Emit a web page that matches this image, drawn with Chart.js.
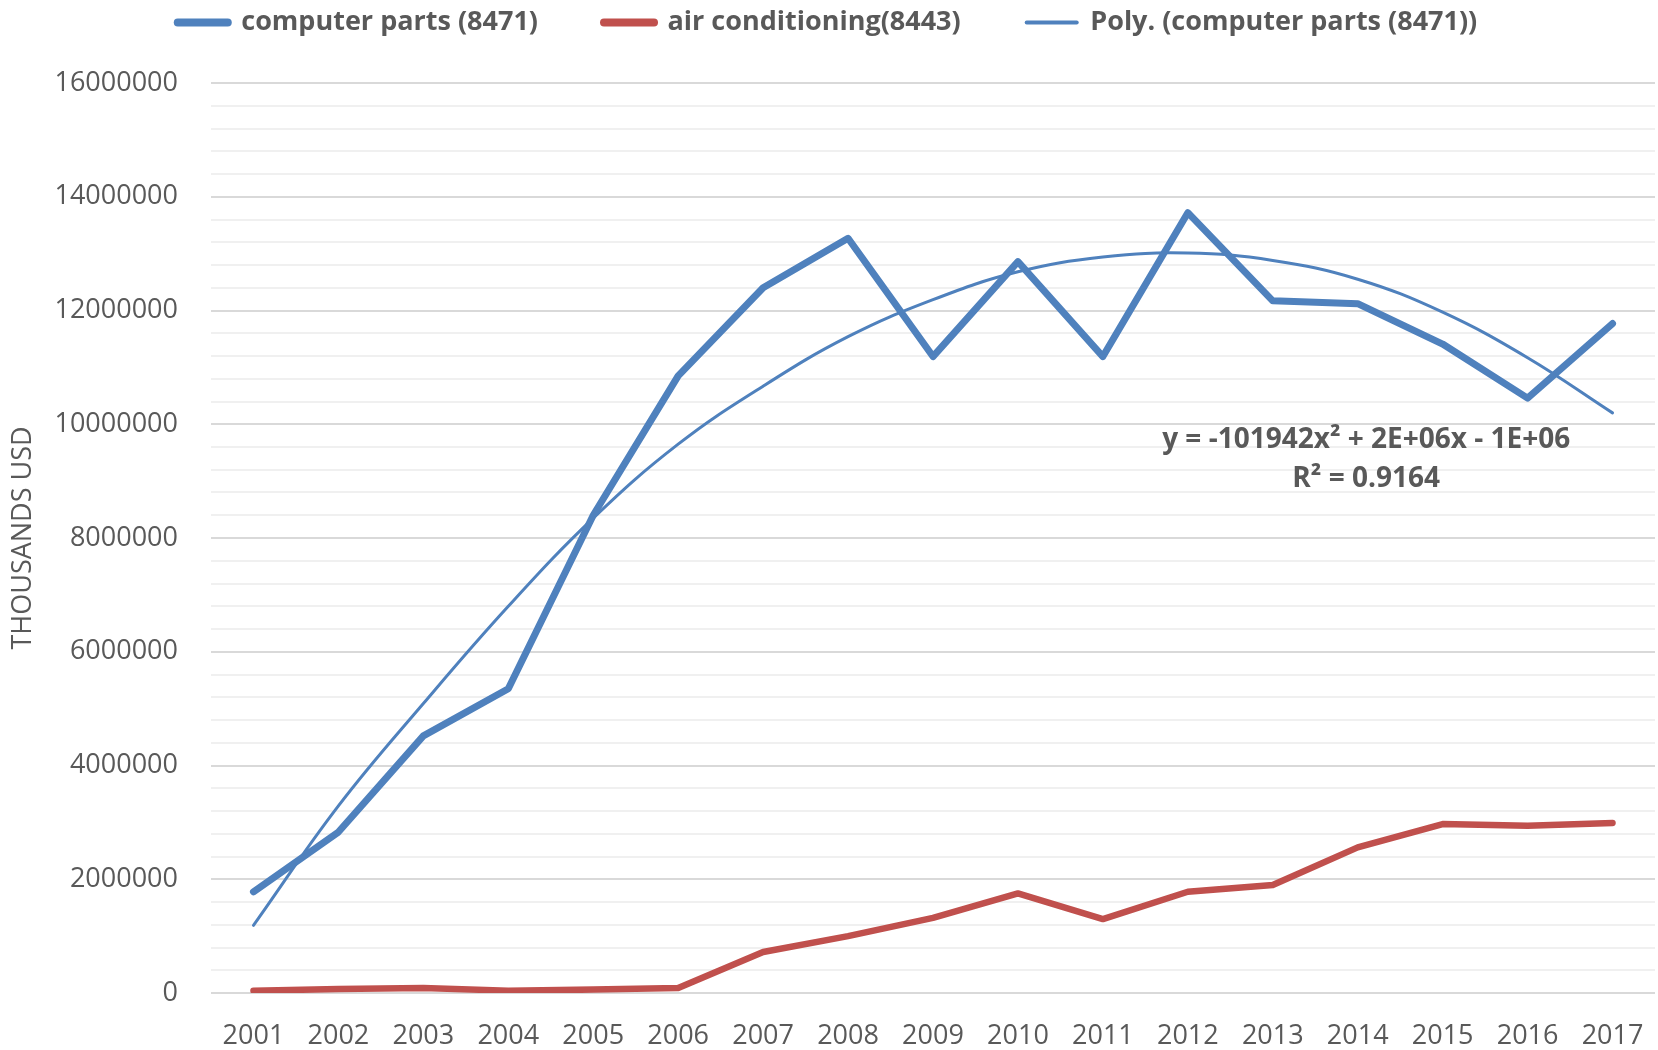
<!DOCTYPE html>
<html>
<head>
<meta charset="utf-8">
<script src="https://cdn.jsdelivr.net/npm/chart.js@4/dist/chart.umd.min.js"></script>
<style>
    html, body { margin: 0; padding: 0; background: #fff; }
    #wrap { width: 1658px; height: 1050px; }
</style>
</head>
<body>
<div id="wrap"><canvas id="grafico"></canvas></div>
<script>
// --- Datos ---
const anios = ["2001", "2002", "2003", "2004", "2005", "2006", "2007", "2008", "2009",
               "2010", "2011", "2012", "2013", "2014", "2015", "2016", "2017"];

const computerParts = [1780000, 2830000, 4520000, 5350000, 8400000, 10850000, 12400000, 13270000, 11190000,
                       12860000, 11190000, 13720000, 12170000, 12120000, 11410000, 10460000, 11770000];

const airConditioning = [40000, 70000, 90000, 40000, 60000, 90000, 720000, 1000000, 1320000,
                         1750000, 1300000, 1780000, 1900000, 2560000, 2970000, 2940000, 2990000];

// tendencia polinómica
const polyComputer = [1190000, 3290000, 5090000, 6800000, 8350000, 9650000, 10670000, 11540000, 12190000,
                      12680000, 12940000, 13010000, 12880000, 12550000, 11970000, 11170000, 10200000];

const ecuacion = ["y = -101942x² + 2E+06x - 1E+06", "R² = 0.9164"];

const gris = "#595959";
const azul = "#4f81bd";
const rojo = "#c0504d";
const fuente = "'Open Sans', 'Liberation Sans', sans-serif";

// --- Plugin: texto de la ecuación ---
const textoEcuacion = {
    id: "textoEcuacion",
    afterDatasetsDraw(chart) {
        const { ctx, scales } = chart;
        const x = scales.x.getPixelForValue(13.1);
        ctx.save();
        ctx.fillStyle = gris;
        ctx.font = "bold 28px " + fuente;
        ctx.textAlign = "center";
        ctx.textBaseline = "middle";
        ctx.fillText(ecuacion[0], x, scales.y.getPixelForValue(9730000));
        ctx.fillText(ecuacion[1], x, scales.y.getPixelForValue(9030000));
        ctx.restore();
    }
};

// --- Plugin: más espacio bajo la leyenda ---
const altoLeyenda = {
    id: "altoLeyenda",
    beforeInit(chart) {
        const fitOriginal = chart.legend.fit;
        chart.legend.fit = function () {
            fitOriginal.call(this);
            this.height = 140;
        };
    }
};

const ctx = document.getElementById("grafico").getContext("2d");

new Chart(ctx, {
    type: "line",
    data: {
        labels: anios,
        datasets: [
            {
                label: "computer parts (8471)",
                data: computerParts,
                borderColor: azul,
                borderWidth: 7,
                ancho: 8
            },
            {
                label: "air conditioning(8443)",
                data: airConditioning,
                borderColor: rojo,
                borderWidth: 6.5,
                ancho: 8
            },
            {
                label: "Poly. (computer parts (8471))",
                data: polyComputer,
                borderColor: azul,
                borderWidth: 3,
                tension: 0.4,
                ancho: 4
            }
        ]
    },
    options: {
        responsive: true,
        maintainAspectRatio: false,
        animation: false,
        layout: { padding: { top: -57, right: 3, bottom: 2, left: 0 } },
        elements: {
            point: { radius: 0 },
            line: { borderJoinStyle: "round", borderCapStyle: "round", fill: false }
        },
        plugins: {
            tooltip: { enabled: false },
            legend: {
                position: "top",
                labels: {
                    color: gris,
                    font: { family: fuente, size: 27, weight: "bold" },
                    usePointStyle: true,
                    pointStyleWidth: 50,
                    padding: 66,
                    generateLabels(chart) {
                        return chart.data.datasets.map((ds, i) => ({
                            text: ds.label,
                            fillStyle: ds.borderColor,
                            strokeStyle: ds.borderColor,
                            lineWidth: ds.ancho,
                            lineCap: "round",
                            pointStyle: "line",
                            fontColor: gris,
                            datasetIndex: i
                        }));
                    }
                }
            }
        },
        scales: {
            x: {
                offset: true,
                afterFit(scale) {
                    scale.height = 55;
                    scale.paddingLeft = 0;
                    scale.paddingRight = 0;
                },
                grid: { display: false, drawTicks: false },
                border: { display: false },
                ticks: {
                    color: gris,
                    font: { family: fuente, size: 27 },
                    padding: 27,
                    maxRotation: 0,
                    autoSkip: false
                }
            },
            y: {
                min: 0,
                max: 16000000,
                afterFit(scale) { scale.width = 211; },
                border: { display: false },
                grid: {
                    drawTicks: false,
                    lineWidth: 2,
                    color: c => (c.tick && c.tick.value % 2000000 === 0) ? "#d9d9d9" : "#f0f0f0"
                },
                ticks: {
                    stepSize: 400000,
                    autoSkip: false,
                    color: gris,
                    font: { family: fuente, size: 27 },
                    padding: 33,
                    callback: v => (v % 2000000 === 0) ? String(v) : ""
                },
                title: {
                    display: true,
                    text: "THOUSANDS USD",
                    color: gris,
                    font: { family: fuente, size: 27 },
                    padding: { top: 7, bottom: 0 }
                }
            }
        }
    },
    plugins: [textoEcuacion, altoLeyenda]
});
</script>
</body>
</html>
